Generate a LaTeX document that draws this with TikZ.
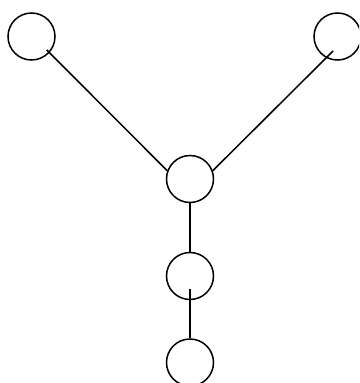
\documentclass[tikz,border=0pt]{standalone}
\usepackage{tikz}
\usetikzlibrary{positioning}
\tikzset{
  tr_node/.style={circle,draw=black,line width=1.5pt,
    fill=none,minimum size=47pt,inner sep=0pt},
  tr_edge/.style={draw=black,line width=1.5pt},
}

\begin{document}
\begin{tikzpicture}[x=1pt,y=-1pt]
  \useasboundingbox (0,0) rectangle (359,383);
  \clip (0,0) rectangle (359,383);
  % leaves at the top
  \node (lt) [tr_node] at (31.5,36.5) {};
  \node (rt) [tr_node] at (337.5,36.5) {};
  % the chain in the middle
  \node (hub) [tr_node] at (190,179) {};
  \node (mid) [tr_node] at (190,276) {};
  \node (bot) [tr_node] at (190,362.5) {};

  \draw[tr_edge, shorten <=-4pt]  (lt.-42)  -- (hub.160);
  \draw[tr_edge, shorten <=-10pt] (rt.-118) -- (hub.20);
  \draw[tr_edge] (hub.south) -- (mid.north);
  \draw[tr_edge, shorten <=-11pt] (mid.south) -- (bot.north);
\end{tikzpicture}
\end{document}
